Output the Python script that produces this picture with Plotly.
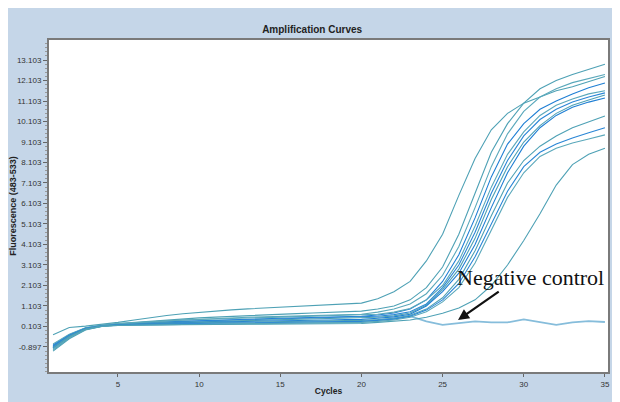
import plotly.graph_objects as go

cycles = list(range(1, 36))

curve_a = [-0.30, 0.05, 0.12, 0.20, 0.30, 0.42, 0.54, 0.64, 0.72, 0.79, 0.85, 0.91, 0.96, 1.00, 1.04, 1.08, 1.11, 1.14, 1.18, 1.24,
           1.45, 1.80, 2.30, 3.30, 4.60, 6.50, 8.30, 9.70, 10.50, 11.00, 11.30, 11.60, 11.80, 12.05, 12.30]
curve_b = [-0.85, -0.32, 0.02, 0.16, 0.24, 0.30, 0.36, 0.42, 0.47, 0.52, 0.56, 0.60, 0.63, 0.67, 0.70, 0.73, 0.76, 0.79, 0.82, 0.85,
           0.95, 1.10, 1.40, 2.00, 3.00, 4.60, 6.60, 8.60, 10.00, 11.00, 11.70, 12.10, 12.40, 12.65, 12.90]
curve_c = [-0.90, -0.35, 0.00, 0.14, 0.22, 0.28, 0.33, 0.38, 0.42, 0.46, 0.49, 0.52, 0.55, 0.57, 0.59, 0.61, 0.63, 0.65, 0.67, 0.70,
           0.80, 0.95, 1.20, 1.70, 2.60, 4.00, 5.90, 7.90, 9.50, 10.60, 11.30, 11.70, 12.00, 12.20, 12.40]
curve_d = [-0.95, -0.40, -0.02, 0.13, 0.20, 0.25, 0.29, 0.33, 0.36, 0.39, 0.42, 0.44, 0.46, 0.48, 0.50, 0.52, 0.54, 0.56, 0.58, 0.60,
           0.66, 0.76, 0.95, 1.40, 2.30, 3.60, 5.40, 7.40, 9.00, 10.00, 10.70, 11.10, 11.45, 11.75, 11.98]
curve_e = [-0.80, -0.30, 0.03, 0.15, 0.21, 0.25, 0.28, 0.31, 0.34, 0.37, 0.39, 0.41, 0.43, 0.45, 0.47, 0.49, 0.50, 0.52, 0.53, 0.55,
           0.60, 0.68, 0.82, 1.20, 2.00, 3.10, 4.70, 6.60, 8.20, 9.40, 10.20, 10.70, 11.05, 11.30, 11.50]
curve_f = [-1.05, -0.45, -0.05, 0.12, 0.19, 0.23, 0.26, 0.29, 0.31, 0.33, 0.35, 0.37, 0.39, 0.41, 0.42, 0.44, 0.45, 0.47, 0.48, 0.50,
           0.55, 0.62, 0.76, 1.15, 1.90, 2.90, 4.40, 6.30, 7.90, 9.10, 9.90, 10.50, 10.90, 11.15, 11.40]
curve_g = [-0.90, -0.36, 0.00, 0.13, 0.18, 0.21, 0.24, 0.26, 0.28, 0.30, 0.32, 0.33, 0.35, 0.36, 0.38, 0.39, 0.41, 0.42, 0.44, 0.45,
           0.50, 0.57, 0.70, 1.10, 1.80, 2.70, 4.10, 5.90, 7.60, 8.90, 9.80, 10.40, 10.80, 11.05, 11.25]
curve_h = [-0.75, -0.28, 0.04, 0.17, 0.24, 0.29, 0.34, 0.38, 0.41, 0.44, 0.47, 0.50, 0.52, 0.54, 0.56, 0.58, 0.60, 0.61, 0.63, 0.65,
           0.70, 0.80, 0.98, 1.40, 2.10, 3.30, 5.00, 6.90, 8.50, 9.60, 10.40, 10.90, 11.20, 11.45, 11.60]
curve_i = [-1.10, -0.50, -0.07, 0.10, 0.17, 0.20, 0.22, 0.24, 0.26, 0.28, 0.29, 0.30, 0.32, 0.33, 0.34, 0.35, 0.36, 0.37, 0.39, 0.40,
           0.44, 0.50, 0.65, 0.95, 1.50, 2.40, 3.80, 5.50, 7.10, 8.20, 8.90, 9.40, 9.80, 10.10, 10.37]
curve_j = [-0.85, -0.33, 0.01, 0.14, 0.18, 0.20, 0.21, 0.23, 0.24, 0.25, 0.26, 0.27, 0.28, 0.29, 0.30, 0.31, 0.32, 0.33, 0.34, 0.35,
           0.40, 0.46, 0.60, 0.90, 1.40, 2.20, 3.50, 5.10, 6.70, 7.90, 8.60, 9.00, 9.30, 9.55, 9.80]
curve_k = [-1.00, -0.42, -0.04, 0.11, 0.15, 0.17, 0.18, 0.19, 0.20, 0.21, 0.22, 0.23, 0.24, 0.25, 0.25, 0.26, 0.27, 0.28, 0.29, 0.30,
           0.35, 0.42, 0.55, 0.82, 1.30, 2.00, 3.20, 4.80, 6.40, 7.60, 8.40, 8.80, 9.05, 9.25, 9.45]
curve_l = [-0.92, -0.38, -0.02, 0.12, 0.16, 0.17, 0.18, 0.18, 0.19, 0.19, 0.20, 0.20, 0.21, 0.21, 0.22, 0.22, 0.23, 0.23, 0.24, 0.25,
           0.30, 0.35, 0.42, 0.55, 0.75, 1.00, 1.40, 2.10, 3.10, 4.30, 5.60, 7.00, 8.00, 8.50, 8.80]
negative_control = [-0.95, -0.40, -0.03, 0.12, 0.17, 0.19, 0.20, 0.21, 0.22, 0.23, 0.24, 0.25, 0.26, 0.27, 0.28, 0.29, 0.30, 0.31, 0.32, 0.33,
                    0.40, 0.50, 0.60, 0.35, 0.18, 0.26, 0.35, 0.30, 0.30, 0.45, 0.30, 0.18, 0.30, 0.36, 0.32]

positive_curves = [curve_a, curve_b, curve_c, curve_d, curve_e, curve_f,
                   curve_g, curve_h, curve_i, curve_j, curve_k, curve_l]
curve_colors = ["#4ea1b5", "#4ea1b5", "#5aa8bb", "#1f7fd4", "#2a86d6", "#4ea1b5",
                "#1f7fd4", "#5aa8bb", "#4ea1b5", "#2a86d6", "#5aa8bb", "#4ea1b5"]

y_tickvals = [-0.897, 0.103, 1.103, 2.103, 3.103, 4.103, 5.103, 6.103, 7.103, 8.103, 9.103, 10.103, 11.103, 12.103, 13.103]
y_ticktext = ["-0.897", "0.103", "1.103", "2.103", "3.103", "4.103", "5.103", "6.103", "7.103", "8.103", "9.103", "10.103", "11.103", "12.103", "13.103"]
x_tickvals = [5, 10, 15, 20, 25, 30, 35]

fig = go.Figure()

fig.add_trace(go.Scatter(x=cycles, y=negative_control, mode="lines",
                         line=dict(color="#86bddb", width=1.8), hoverinfo="skip"))
for ys, col in zip(positive_curves, curve_colors):
    fig.add_trace(go.Scatter(x=cycles, y=ys, mode="lines",
                             line=dict(color=col, width=1.1), hoverinfo="skip"))

fig.add_annotation(x=30.4, y=2.5, xref="x", yref="y", text="Negative control", showarrow=False,
                   font=dict(family="Liberation Serif", size=22, color="#111111"))
fig.add_annotation(x=25.95, y=0.42, ax=28.55, ay=1.85, xref="x", yref="y", axref="x", ayref="y",
                   text="", showarrow=True, arrowhead=2, arrowsize=1, arrowwidth=2.2, arrowcolor="#111111")

fig.update_layout(
    width=612, height=394,
    margin=dict(l=41, r=12, t=32, b=30, autoexpand=False),
    paper_bgcolor="#c5d6e8",
    plot_bgcolor="white",
    showlegend=False,
    hovermode=False,
    title=dict(text="<b>Amplification Curves</b>", x=0.497, xref="container", y=1 - 21 / 394,
               yref="container", xanchor="center", yanchor="middle",
               font=dict(family="Liberation Sans", size=10, color="#222222")),
    xaxis=dict(range=[0.75, 35.19], tickmode="array", tickvals=x_tickvals, automargin=False,
               ticks="outside", ticklen=3, tickcolor="#666666",
               showgrid=False, zeroline=False, showline=True, linecolor="#7a7a7a", linewidth=2, mirror=True,
               tickfont=dict(family="Liberation Sans", size=8, color="#333333"),
               title=dict(text="<b>Cycles</b>", standoff=0,
                          font=dict(family="Liberation Sans", size=8.5, color="#222222"))),
    yaxis=dict(range=[-2.12, 14.08], tickmode="array", tickvals=y_tickvals, ticktext=y_ticktext, automargin=False,
               ticks="outside", ticklen=4, tickcolor="#666666",
               minor=dict(tickmode="linear", tick0=0.103, dtick=0.2, ticks="outside", ticklen=2.5, tickcolor="#999999"),
               showgrid=False, zeroline=False, showline=True, linecolor="#7a7a7a", linewidth=2, mirror=True,
               tickfont=dict(family="Liberation Sans", size=8, color="#333333"),
               title=dict(text="<b>Fluorescence (483-533)</b>", standoff=3,
                          font=dict(family="Liberation Sans", size=9, color="#222222"))),
)

fig.write_html("out.html")
